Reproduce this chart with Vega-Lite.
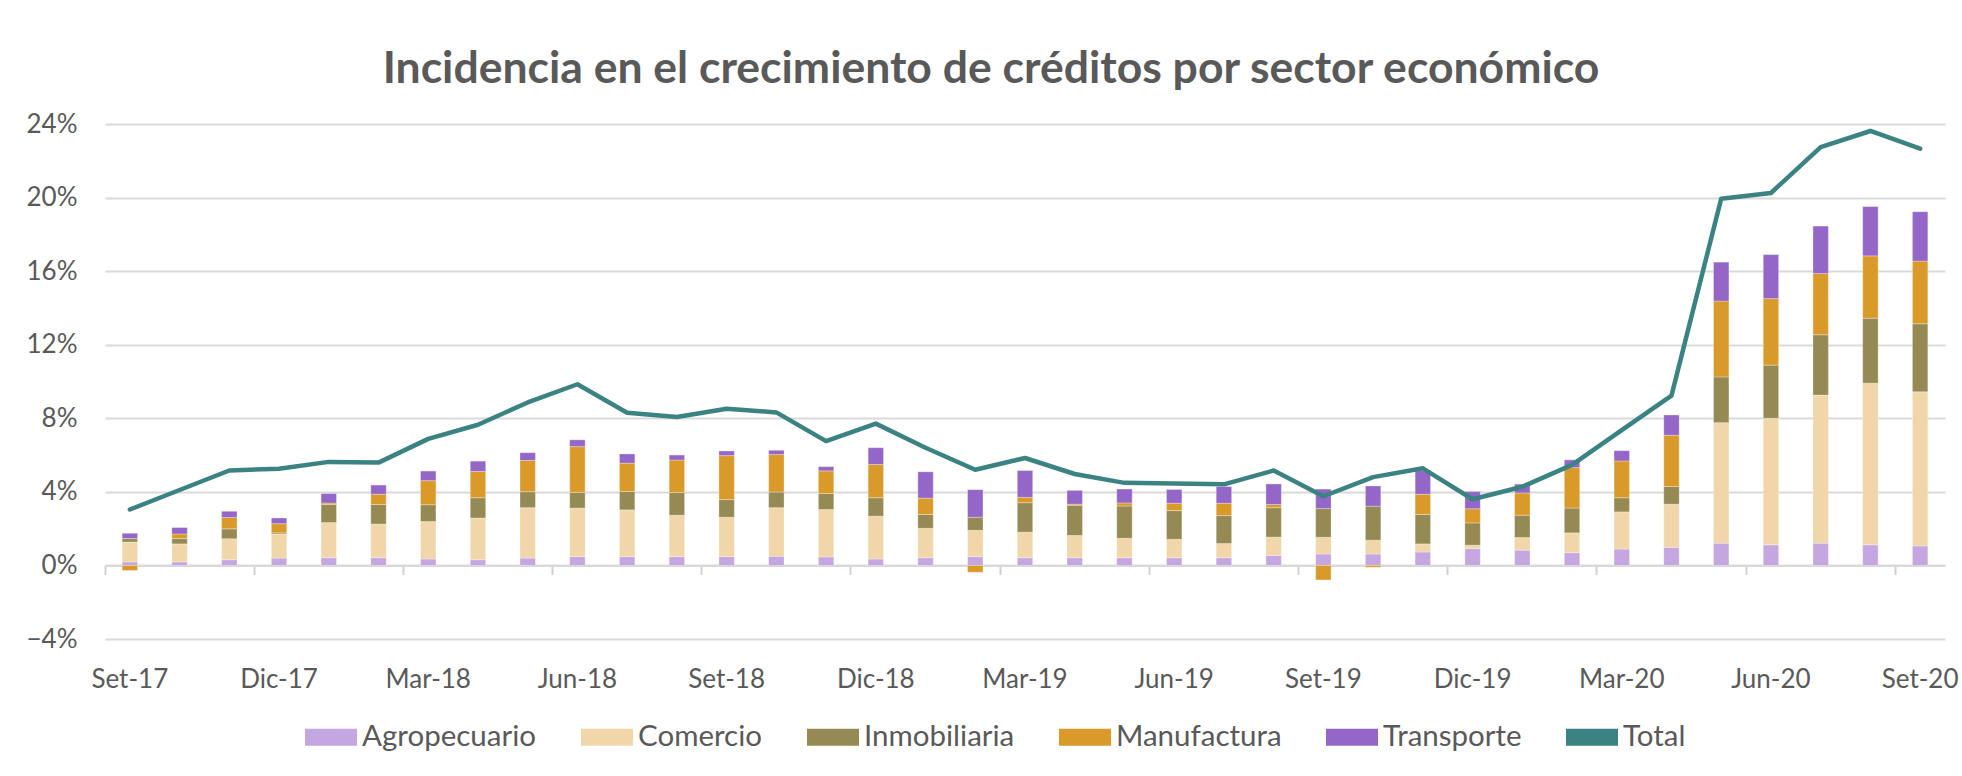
{
  "$schema": "https://vega.github.io/schema/vega-lite/v6.json",
  "autosize": {"type": "none"},
  "width": 1840,
  "height": 515,
  "padding": {"left": 105, "top": 124, "right": 17, "bottom": 137},
  "background": "white",
  "config": {
    "font": "Lato",
    "view": {"stroke": null},
    "axis": {"labelFont": "Lato", "labelColor": "#595959", "labelFontSize": 26}
  },
  "title": {
    "text": "Incidencia en el crecimiento de créditos por sector económico",
    "font": "Lato",
    "fontSize": 44.5,
    "fontWeight": "bold",
    "color": "#595959",
    "anchor": "middle",
    "frame": "group",
    "dx": -34,
    "baseline": "alphabetic",
    "offset": -16
  },
  "data": {
    "values": [
      {"mes": "Set-17", "Agropecuario": 0.19, "Comercio": 1.08, "Inmobiliaria": 0.19, "Manufactura": -0.27, "Transporte": 0.29, "Total": 3.04},
      {"mes": "Oct-17", "Agropecuario": 0.19, "Comercio": 0.98, "Inmobiliaria": 0.29, "Manufactura": 0.25, "Transporte": 0.35, "Total": 4.1},
      {"mes": "Nov-17", "Agropecuario": 0.31, "Comercio": 1.14, "Inmobiliaria": 0.54, "Manufactura": 0.62, "Transporte": 0.33, "Total": 5.16},
      {"mes": "Dic-17", "Agropecuario": 0.4, "Comercio": 1.31, "Inmobiliaria": 0.06, "Manufactura": 0.5, "Transporte": 0.31, "Total": 5.26},
      {"mes": "Ene-18", "Agropecuario": 0.42, "Comercio": 1.91, "Inmobiliaria": 0.98, "Manufactura": 0.08, "Transporte": 0.52, "Total": 5.63},
      {"mes": "Feb-18", "Agropecuario": 0.42, "Comercio": 1.83, "Inmobiliaria": 1.06, "Manufactura": 0.56, "Transporte": 0.5, "Total": 5.59},
      {"mes": "Mar-18", "Agropecuario": 0.35, "Comercio": 2.04, "Inmobiliaria": 0.91, "Manufactura": 1.31, "Transporte": 0.52, "Total": 6.88},
      {"mes": "Abr-18", "Agropecuario": 0.31, "Comercio": 2.27, "Inmobiliaria": 1.1, "Manufactura": 1.43, "Transporte": 0.56, "Total": 7.65},
      {"mes": "May-18", "Agropecuario": 0.4, "Comercio": 2.74, "Inmobiliaria": 0.87, "Manufactura": 1.7, "Transporte": 0.42, "Total": 8.86},
      {"mes": "Jun-18", "Agropecuario": 0.48, "Comercio": 2.64, "Inmobiliaria": 0.85, "Manufactura": 2.49, "Transporte": 0.37, "Total": 9.85},
      {"mes": "Jul-18", "Agropecuario": 0.48, "Comercio": 2.54, "Inmobiliaria": 1.0, "Manufactura": 1.54, "Transporte": 0.5, "Total": 8.3},
      {"mes": "Ago-18", "Agropecuario": 0.48, "Comercio": 2.25, "Inmobiliaria": 1.23, "Manufactura": 1.77, "Transporte": 0.27, "Total": 8.07},
      {"mes": "Set-18", "Agropecuario": 0.48, "Comercio": 2.14, "Inmobiliaria": 0.96, "Manufactura": 2.39, "Transporte": 0.25, "Total": 8.52},
      {"mes": "Oct-18", "Agropecuario": 0.5, "Comercio": 2.64, "Inmobiliaria": 0.85, "Manufactura": 2.04, "Transporte": 0.23, "Total": 8.32},
      {"mes": "Nov-18", "Agropecuario": 0.46, "Comercio": 2.58, "Inmobiliaria": 0.87, "Manufactura": 1.23, "Transporte": 0.23, "Total": 6.76},
      {"mes": "Dic-18", "Agropecuario": 0.35, "Comercio": 2.33, "Inmobiliaria": 1.0, "Manufactura": 1.81, "Transporte": 0.91, "Total": 7.71},
      {"mes": "Ene-19", "Agropecuario": 0.42, "Comercio": 1.6, "Inmobiliaria": 0.75, "Manufactura": 0.89, "Transporte": 1.43, "Total": 6.4},
      {"mes": "Feb-19", "Agropecuario": 0.48, "Comercio": 1.43, "Inmobiliaria": 0.71, "Manufactura": -0.37, "Transporte": 1.5, "Total": 5.2},
      {"mes": "Mar-19", "Agropecuario": 0.42, "Comercio": 1.39, "Inmobiliaria": 1.6, "Manufactura": 0.29, "Transporte": 1.46, "Total": 5.84},
      {"mes": "Abr-19", "Agropecuario": 0.42, "Comercio": 1.21, "Inmobiliaria": 1.64, "Manufactura": 0.06, "Transporte": 0.75, "Total": 4.97},
      {"mes": "May-19", "Agropecuario": 0.42, "Comercio": 1.06, "Inmobiliaria": 1.75, "Manufactura": 0.17, "Transporte": 0.75, "Total": 4.49},
      {"mes": "Jun-19", "Agropecuario": 0.42, "Comercio": 1.0, "Inmobiliaria": 1.56, "Manufactura": 0.4, "Transporte": 0.75, "Total": 4.45},
      {"mes": "Jul-19", "Agropecuario": 0.42, "Comercio": 0.77, "Inmobiliaria": 1.52, "Manufactura": 0.67, "Transporte": 0.91, "Total": 4.41},
      {"mes": "Ago-19", "Agropecuario": 0.54, "Comercio": 1.0, "Inmobiliaria": 1.6, "Manufactura": 0.17, "Transporte": 1.12, "Total": 5.16},
      {"mes": "Set-19", "Agropecuario": 0.62, "Comercio": 0.91, "Inmobiliaria": 1.56, "Manufactura": -0.79, "Transporte": 1.06, "Total": 3.76},
      {"mes": "Oct-19", "Agropecuario": 0.62, "Comercio": 0.75, "Inmobiliaria": 1.85, "Manufactura": -0.1, "Transporte": 1.1, "Total": 4.8},
      {"mes": "Nov-19", "Agropecuario": 0.73, "Comercio": 0.44, "Inmobiliaria": 1.6, "Manufactura": 1.1, "Transporte": 1.29, "Total": 5.28},
      {"mes": "Dic-19", "Agropecuario": 0.91, "Comercio": 0.19, "Inmobiliaria": 1.21, "Manufactura": 0.77, "Transporte": 0.94, "Total": 3.6},
      {"mes": "Ene-20", "Agropecuario": 0.83, "Comercio": 0.69, "Inmobiliaria": 1.21, "Manufactura": 1.21, "Transporte": 0.48, "Total": 4.28},
      {"mes": "Feb-20", "Agropecuario": 0.69, "Comercio": 1.08, "Inmobiliaria": 1.35, "Manufactura": 2.2, "Transporte": 0.42, "Total": 5.47},
      {"mes": "Mar-20", "Agropecuario": 0.89, "Comercio": 2.02, "Inmobiliaria": 0.77, "Manufactura": 2.0, "Transporte": 0.56, "Total": 7.36},
      {"mes": "Abr-20", "Agropecuario": 0.98, "Comercio": 2.35, "Inmobiliaria": 0.96, "Manufactura": 2.79, "Transporte": 1.1, "Total": 9.23},
      {"mes": "May-20", "Agropecuario": 1.21, "Comercio": 6.55, "Inmobiliaria": 2.49, "Manufactura": 4.12, "Transporte": 2.12, "Total": 19.94},
      {"mes": "Jun-20", "Agropecuario": 1.12, "Comercio": 6.88, "Inmobiliaria": 2.89, "Manufactura": 3.62, "Transporte": 2.39, "Total": 20.25},
      {"mes": "Jul-20", "Agropecuario": 1.21, "Comercio": 8.05, "Inmobiliaria": 3.28, "Manufactura": 3.33, "Transporte": 2.58, "Total": 22.74},
      {"mes": "Ago-20", "Agropecuario": 1.12, "Comercio": 8.79, "Inmobiliaria": 3.53, "Manufactura": 3.39, "Transporte": 2.68, "Total": 23.62},
      {"mes": "Set-20", "Agropecuario": 1.06, "Comercio": 8.38, "Inmobiliaria": 3.7, "Manufactura": 3.41, "Transporte": 2.68, "Total": 22.66}
    ]
  },
  "layer": [
    {
      "transform": [
        {"fold": ["Agropecuario", "Comercio", "Inmobiliaria", "Manufactura", "Transporte"], "as": ["sector", "valor"]}
      ],
      "mark": {"type": "bar", "width": {"band": 0.31}, "stroke": "white", "strokeWidth": 0.5, "strokeOpacity": 0.6},
      "encoding": {
        "x": {
          "field": "mes", "type": "ordinal", "sort": null,
          "scale": {"paddingInner": 0, "paddingOuter": 0},
          "axis": {
            "title": null, "orient": "bottom", "offset": -73.57,
            "labels": false, "ticks": true, "tickSize": 9, "tickColor": "#d0d0d0", "tickWidth": 2,
            "domain": true, "domainColor": "#d9d9d9", "domainWidth": 2,
            "bandPosition": 0, "grid": false,
            "values": ["Set-17","Dic-17","Mar-18","Jun-18","Set-18","Dic-18","Mar-19","Jun-19","Set-19","Dic-19","Mar-20","Jun-20","Set-20"]
          }
        },
        "y": {
          "field": "valor", "type": "quantitative", "stack": "zero",
          "scale": {"domain": [-4, 24], "nice": false, "zero": false},
          "axis": {
            "title": null, "values": [-4, 0, 4, 8, 12, 16, 20, 24],
            "labelExpr": "format(datum.value, 'd') + '%'",
            "ticks": false, "tickSize": 0, "domain": false, "labelPadding": 28,
            "grid": true, "gridColor": "#d9d9d9", "gridWidth": 2
          }
        },
        "color": {
          "field": "sector", "type": "nominal",
          "scale": {
            "domain": ["Agropecuario", "Comercio", "Inmobiliaria", "Manufactura", "Transporte", "Total"],
            "range": ["#c4a6e0", "#f0d6a8", "#958a53", "#da9a2a", "#9466c8", "#3b8383"]
          },
          "legend": {
            "title": null, "orient": "none", "direction": "horizontal", "columns": 6,
            "legendX": 200, "legendY": 587, "padding": 0,
            "symbolType": "M-1,-0.33H1V0.33H-1Z", "symbolSize": 2704, "symbolStrokeWidth": 0,
            "labelFont": "Lato", "labelFontSize": 29.5, "labelColor": "#595959", "labelOffset": 5,
            "columnPadding": 44, "labelLimit": 400,
            "encode": {
              "symbols": {
                "update": {
                  "shape": {"signal": "datum.value === 'Total' ? 'stroke' : 'M-1,-0.33H1V0.33H-1Z'"},
                  "stroke": {"signal": "datum.value === 'Total' ? '#3b8383' : null"},
                  "strokeWidth": {"signal": "datum.value === 'Total' ? 5 : 0"},
                  "strokeCap": {"value": "round"}
                }
              }
            }
          }
        },
        "order": {"field": "sector", "sort": "ascending"}
      }
    },
    {
      "mark": {"type": "line", "strokeWidth": 4.5, "strokeJoin": "round", "strokeCap": "round"},
      "encoding": {
        "x": {
          "field": "mes", "type": "ordinal", "sort": null,
          "axis": {
            "title": null, "orient": "bottom", "labels": true, "ticks": false, "tickSize": 0,
            "domain": false, "labelPadding": 27, "labelBaseline": "top", "grid": false,
            "labelAngle": 0, "labelFontSize": 26,
            "values": ["Set-17","Dic-17","Mar-18","Jun-18","Set-18","Dic-18","Mar-19","Jun-19","Set-19","Dic-19","Mar-20","Jun-20","Set-20"]
          }
        },
        "y": {"field": "Total", "type": "quantitative"},
        "color": {"datum": "Total"}
      }
    }
  ],
  "resolve": {"axis": {"x": "independent"}}
}
